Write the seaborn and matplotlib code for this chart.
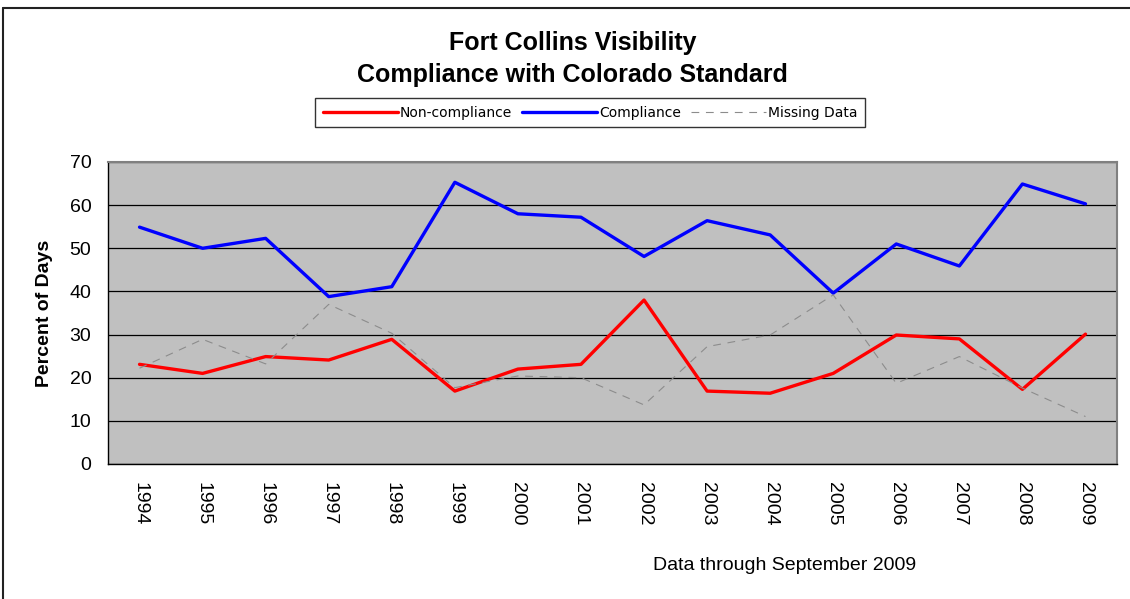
# Fort Collins visibility - compliance chart
import seaborn as sns
import matplotlib.pyplot as plt
import pandas as pd
from matplotlib.lines import Line2D

# Dados
years = ['1994', '1995', '1996', '1997', '1998', '1999', '2000', '2001',
         '2002', '2003', '2004', '2005', '2006', '2007', '2008', '2009']
non_compliance = [23.1, 21.0, 24.9, 24.1, 28.9, 16.9, 22.0, 23.1,
                  38.0, 16.9, 16.4, 21.0, 29.9, 29.0, 17.3, 30.1]
compliance = [54.9, 50.0, 52.3, 38.8, 41.1, 65.3, 58.0, 57.2,
              48.1, 56.4, 53.1, 39.6, 51.0, 45.9, 64.9, 60.3]
missing = [22.2, 28.9, 23.2, 37.0, 30.3, 17.7, 20.4, 20.0,
           13.7, 27.2, 29.9, 39.2, 18.7, 24.9, 17.6, 11.0]

series_names = ['Non-compliance', 'Compliance', 'Missing Data']

df = pd.DataFrame({'Year': years,
                   'Non-compliance': non_compliance,
                   'Compliance': compliance,
                   'Missing Data': missing})
df_long = df.melt(id_vars='Year', var_name='Series', value_name='Percent')

sns.set_style('white')
plt.rcParams['font.family'] = ['Liberation Sans', 'DejaVu Sans']
plt.rcParams['text.color'] = 'black'
plt.rcParams['axes.labelcolor'] = 'black'
plt.rcParams['xtick.color'] = 'black'
plt.rcParams['ytick.color'] = 'black'

palette = {'Non-compliance': '#FF0000', 'Compliance': '#0000FF', 'Missing Data': '#8C8C8C'}
sizes = {'Non-compliance': 2.4, 'Compliance': 2.4, 'Missing Data': 0.8}
dashes = {'Non-compliance': '', 'Compliance': '', 'Missing Data': (7, 6)}

fig = plt.figure(figsize=(11.3, 5.99), dpi=100)
ax = fig.add_axes([108 / 1130, 1 - 464 / 599, 1009 / 1130, 302 / 599])

sns.lineplot(data=df_long, x='Year', y='Percent', hue='Series', style='Series',
             size='Series', palette=palette, sizes=sizes, dashes=dashes,
             hue_order=series_names, ax=ax, legend=False)

ax.set_facecolor('#C0C0C0')
ax.set_xlim(-0.5, len(years) - 0.5)
ax.set_ylim(0, 70)
ax.set_yticks(range(0, 71, 10))
ax.yaxis.grid(True, color='black', linewidth=0.9)
ax.xaxis.grid(False)
ax.set_axisbelow(True)

for side in ['left', 'bottom']:
    ax.spines[side].set_color('black')
    ax.spines[side].set_linewidth(1.0)
for side in ['top', 'right']:
    ax.spines[side].set_color('#808080')
    ax.spines[side].set_linewidth(1.5)

# x ticks: marcas entre as categorias, rótulos girados
ax.set_xticks(range(len(years)))
ax.set_xticklabels(years, rotation=-90, fontsize=14)
ax.set_xticks([i - 0.5 for i in range(len(years) + 1)], minor=True)
ax.tick_params(axis='x', which='major', length=0, pad=13)
ax.tick_params(axis='x', which='minor', length=5, color='black', width=0.9, direction='out')
ax.tick_params(axis='y', length=5, color='black', width=0.9, direction='out', pad=7, labelsize=14)
for lbl in ax.get_xticklabels():
    lbl.set_verticalalignment('top')

ax.set_xlabel('')
ax.set_ylabel('Percent of Days', fontsize=14, fontweight='bold')
ax.yaxis.set_label_coords(-0.0545, 0.5)

fig.text(0.507, 1 - 43 / 599, 'Fort Collins Visibility', ha='center', va='center',
         fontsize=18, fontweight='bold')
fig.text(0.507, 1 - 75 / 599, 'Compliance with Colorado Standard', ha='center', va='center',
         fontsize=18, fontweight='bold')

fig.text(785 / 1130, 1 - 566 / 599, 'Data through September 2009', ha='center',
         va='center', fontsize=14)

handles = [Line2D([], [], color=palette['Non-compliance'], linewidth=2.4),
           Line2D([], [], color=palette['Compliance'], linewidth=2.4),
           Line2D([], [], color=palette['Missing Data'], linewidth=0.8, dashes=(7, 6))]
leg = fig.legend(handles, series_names, loc='center', ncol=3,
                 bbox_to_anchor=(590 / 1130, 1 - 112.5 / 599),
                 prop={'family': 'DejaVu Sans', 'size': 10},
                 frameon=True, fancybox=False, edgecolor='black',
                 handlelength=5.4, handletextpad=0.15, columnspacing=0.7,
                 borderpad=0.55, borderaxespad=0)
leg.get_frame().set_linewidth(1.0)

# moldura da figura (topo e esquerda)
fig.add_artist(Line2D([3 / 1130, 3 / 1130], [0, 1 - 8 / 599], color='#222222', linewidth=1.5))
fig.add_artist(Line2D([3 / 1130, 1], [1 - 8 / 599, 1 - 8 / 599], color='#222222', linewidth=1.5))

fig.savefig('out.png', dpi=100)
